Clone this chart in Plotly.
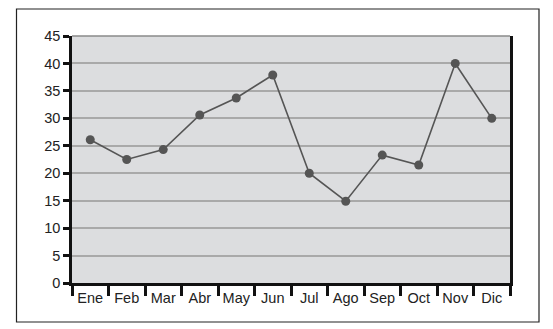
import plotly.graph_objects as go

months = ["Ene", "Feb", "Mar", "Abr", "May", "Jun", "Jul", "Ago", "Sep", "Oct", "Nov", "Dic"]
values = [26.1, 22.5, 24.3, 30.6, 33.7, 37.9, 20.0, 14.9, 23.3, 21.5, 40.0, 30.0]
y_ticks = [0, 5, 10, 15, 20, 25, 30, 35, 40, 45]

# the page body adds an 8px margin, so the figure is 8px smaller and offset
OFF = 8
W, H = 553 - OFF, 329 - OFF
L, R, T, B = 72 - OFF, 43, 36 - OFF, 46
pw, ph = W - L - R, H - T - B

def px(x):
    return (x - OFF - L) / pw

def py(y):
    return (H - B - (y - OFF)) / ph

fig = go.Figure()
fig.add_trace(go.Scatter(
    x=months, y=values, mode="lines+markers",
    line=dict(color="#555555", width=1.6),
    marker=dict(color="#555555", size=9),
    showlegend=False, cliponaxis=False,
))

font = dict(family="Liberation Sans, Arial, sans-serif", size=14.5, color="#222222")

fig.update_layout(
    width=W, height=H,
    margin=dict(l=L, r=R, t=T, b=B, autoexpand=False),
    paper_bgcolor="white",
    plot_bgcolor="#dcdddf",
    font=font,
    xaxis=dict(
        type="category", categoryorder="array", categoryarray=months,
        range=[-0.5, len(months) - 0.5], autorange=False,
        showgrid=False, zeroline=False, automargin=False,
        showline=True, linecolor="#111111", linewidth=2.5,
        ticks="outside", tickson="boundaries", ticklen=10, tickwidth=2.5, tickcolor="#111111",
        tickangle=0, tickfont=font,
    ),
    yaxis=dict(
        range=[0, 45], autorange=False, tickvals=y_ticks, ticktext=[str(v) for v in y_ticks],
        showgrid=True, gridcolor="#a9a9a9", gridwidth=1.5, zeroline=False, automargin=False,
        showline=True, linecolor="#111111", linewidth=2.5, mirror=True,
        ticks="outside", ticklen=6, tickwidth=2.5, tickcolor="#111111",
        tickfont=font,
    ),
    shapes=[
        dict(type="rect", xref="paper", yref="paper",
             x0=px(16.5), x1=px(539), y0=py(9), y1=py(322),
             line=dict(color="#222222", width=1.2), fillcolor="rgba(0,0,0,0)", layer="below"),
        dict(type="line", xref="paper", yref="paper",
             x0=0, x1=1, y0=1, y1=1,
             line=dict(color="#8a8a8a", width=1.5)),
    ],
)

fig.write_html("out.html")
